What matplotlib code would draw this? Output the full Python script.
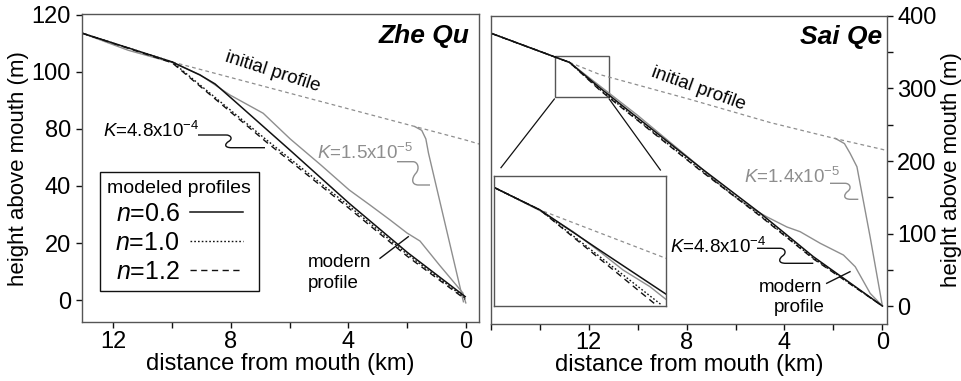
import matplotlib
matplotlib.use("Agg")
import matplotlib.pyplot as plt
from matplotlib.path import Path
from matplotlib.patches import PathPatch, Rectangle
from matplotlib.lines import Line2D

plt.rcParams['font.family'] = ['Liberation Sans', 'DejaVu Sans']
plt.rcParams['mathtext.fontset'] = 'custom'
plt.rcParams['mathtext.rm'] = 'Liberation Sans'
plt.rcParams['mathtext.it'] = 'Liberation Sans:italic'

W, H = 962, 381
BLACK = '#111111'
GREY = '#8e8e8e'
SPINE = '#555555'

# ---- Zhe Qu (left panel), distance km / height m ----
zq_init_x = [10.0, 0.0, -0.46]
zq_init_y = [83.5, 56.1, 54.7]
zq_n06_x = [13.07, 10.0, 9.05, 8.54, 7.92, 5.98, 3.97, 1.99, 0.02]
zq_n06_y = [93.6, 83.5, 78.9, 75.8, 70.2, 52.5, 33.9, 16.7, 1.2]
zq_n10_x = [13.07, 10.0, 6.78, 3.98, 2.0, 0.02]
zq_n10_y = [93.6, 83.5, 56.1, 33.0, 16.1, 0.7]
zq_n12_x = [13.07, 10.0, 6.78, 3.98, 2.0, 0.02]
zq_n12_y = [93.6, 83.2, 55.3, 32.2, 15.4, 0.3]
zq_modern_x = [13.07, 11.5, 10.0, 9.05, 8.03, 6.9, 5.98, 4.94, 3.97, 3.26, 2.58, 2.0, 1.56, 0.9, 0.1, 0.0]
zq_modern_y = [93.6, 87.6, 83.3, 79.0, 71.9, 65.5, 56.5, 47.4, 38.6, 33.3, 28.1, 23.5, 20.7, 12.3, 2.5, -1.0]
zq_klow_x = [1.73, 1.5, 1.36, 1.27, 0.08]
zq_klow_y = [60.8, 59.5, 56.5, 51.5, -0.6]
zq_yticks = [0, 20, 40, 60, 80, 100]
zq_yticklabels = ['0', '20', '40', '80', '100', '120']

# ---- Sai Qe (right panel) ----
sq_init_x = [12.78, 11.52, 7.86, 4.58, 2.0, 0.0, -0.2]
sq_init_y = [336, 319, 285, 253, 231.5, 216, 214]
sq_n06_x = [15.97, 12.78, 11.52, 7.44, 4.99, 2.82, 0.0]
sq_n06_y = [376, 336, 300.3, 191, 128, 68, 0]
sq_n10_x = [15.97, 12.78, 11.52, 7.44, 4.99, 2.82, 0.0]
sq_n10_y = [376, 336, 298, 188, 125, 66, 0]
sq_n12_x = [15.97, 12.78, 11.52, 7.44, 4.99, 2.82, 0.0]
sq_n12_y = [376, 336, 297, 187, 124, 65, 0]
sq_modern_x = [15.97, 12.78, 10.0, 7.5, 6.6, 6.0, 5.3, 4.72, 3.9, 3.36, 2.54, 1.59, 1.11, 0.5, 0.0]
sq_modern_y = [376, 336, 263, 193, 166, 150, 134, 123, 109, 102.5, 86.5, 70.3, 54.2, 17.5, 0]
sq_klow_x = [1.93, 1.55, 1.32, 1.04, 0.5, 0.0]
sq_klow_y = [231.3, 224, 210.6, 192, 95, 0]

# ---- inset (zoom of the Sai Qe knickpoint) ----
ins_init_x = [13.4, 12.8, 11.16]
ins_init_y = [340.0, 330.1, 308.9]
ins_n06_x = [13.4, 12.8, 12.06, 11.16]
ins_n06_y = [340.0, 330.1, 313.3, 293.2]
ins_n10_x = [13.4, 12.8, 11.22]
ins_n10_y = [340.0, 330.1, 288.5]
ins_n12_x = [13.4, 12.8, 11.29]
ins_n12_y = [340.0, 330.1, 288.5]
ins_modern_x = [13.4, 12.8, 12.37, 12.02, 11.72, 11.37, 11.16]
ins_modern_y = [340.0, 329.8, 320.6, 311.8, 303.8, 296.5, 290.9]


def fx(x):
    return x / W


def fy(y):
    return 1 - y / H


fig = plt.figure(figsize=(9.62, 3.81), dpi=100)
ax1 = fig.add_axes([fx(82), fy(322.3), (479.3 - 82) / W, (322.3 - 14.3) / H])
ax2 = fig.add_axes([fx(490.7), fy(324), (887.3 - 490.7) / W, (324 - 15.7) / H])


def squiggle(x0, y0, xl, x1, y1, color):
    h = y1 - y0
    w = 7
    pts = [(x0, y0), (xl, y0),
           (xl + 0.7 * w, y0), (xl + w, y0 + 0.3 * h), (xl + 0.4 * w, y0 + 0.5 * h),
           (xl - 0.2 * w, y0 + 0.7 * h), (xl - 0.3 * w, y1), (xl + 0.8 * w, y1),
           (x1, y1)]
    codes = [Path.MOVETO, Path.LINETO] + [Path.CURVE4] * 6 + [Path.LINETO]
    verts = [(fx(a), fy(b)) for a, b in pts]
    fig.add_artist(PathPatch(Path(verts, codes), transform=fig.transFigure,
                             fill=False, edgecolor=color, lw=1.0))


def pointer(xa, ya, xb, yb):
    fig.add_artist(Line2D([fx(xa), fx(xb)], [fy(ya), fy(yb)],
                          transform=fig.transFigure, color=BLACK, lw=1.0))


def style_axes(ax):
    for s in ax.spines.values():
        s.set_color(SPINE)
        s.set_linewidth(1.0)
    ax.tick_params(direction='out', length=4, width=1, labelsize=17, color=BLACK)


# left panel
ax1.plot(zq_init_x, zq_init_y, color=GREY, lw=0.9, dashes=(3, 2.5))
ax1.plot(zq_klow_x, zq_klow_y, color=GREY, lw=1.0)
ax1.plot(zq_modern_x, zq_modern_y, color=GREY, lw=1.0)
l12, = ax1.plot(zq_n12_x, zq_n12_y, color=BLACK, lw=1.0, dashes=(4.5, 3.2))
l10, = ax1.plot(zq_n10_x, zq_n10_y, color=BLACK, lw=1.0, dashes=(1.2, 1.5))
l06, = ax1.plot(zq_n06_x, zq_n06_y, color=BLACK, lw=1.1)
ax1.set_xlim(13.07, -0.46)
ax1.set_ylim(-7.8, 100.2)
ax1.set_xticks([0, 2, 4, 6, 8, 10, 12])
ax1.set_xticklabels(['0', '', '4', '', '8', '', '12'])
ax1.set_yticks(zq_yticks)
ax1.set_yticklabels(zq_yticklabels)
style_axes(ax1)
ax1.tick_params(axis='x', pad=2)
ax1.tick_params(axis='y', pad=4)
ax1.set_xlabel('distance from mouth (km)', fontsize=17, labelpad=0)
ax1.set_ylabel('height above mouth (m)', fontsize=16, labelpad=2)

leg = ax1.legend([l06, l10, l12], ['$n$=0.6', '$n$=1.0', '$n$=1.2'],
                 title='modeled profiles', title_fontsize=14, fontsize=18,
                 markerfirst=False, loc='upper left', bbox_to_anchor=(0.0453, 0.487),
                 borderaxespad=0, fancybox=False, framealpha=1, edgecolor=BLACK,
                 borderpad=0.3, labelspacing=0.2, handlelength=2.15, handletextpad=0.4)
leg.get_frame().set_linewidth(1.0)

# right panel
ax2.plot(sq_init_x, sq_init_y, color=GREY, lw=0.9, dashes=(3, 2.5))
ax2.plot(sq_klow_x, sq_klow_y, color=GREY, lw=1.0)
ax2.plot(sq_modern_x, sq_modern_y, color=GREY, lw=1.0)
ax2.plot(sq_n12_x, sq_n12_y, color=BLACK, lw=1.0, dashes=(4.5, 3.2))
ax2.plot(sq_n10_x, sq_n10_y, color=BLACK, lw=1.0, dashes=(1.2, 1.5))
ax2.plot(sq_n06_x, sq_n06_y, color=BLACK, lw=1.1)
ax2.set_xlim(16.0, -0.2)
ax2.set_ylim(-24.8, 400.4)
ax2.set_xticks([0, 2, 4, 6, 8, 10, 12, 14, 16])
ax2.set_xticklabels(['0', '', '4', '', '8', '', '12', '', ''])
ax2.set_yticks([0, 100, 200, 300, 400])
ax2.set_yticks([50, 150, 250, 350], minor=True)
ax2.yaxis.tick_right()
ax2.yaxis.set_label_position('right')
style_axes(ax2)
ax2.tick_params(axis='y', which='minor', direction='out', length=4, width=1, color=BLACK)
ax2.tick_params(axis='x', pad=2)
ax2.tick_params(axis='y', pad=3)
ax2.set_xlabel('distance from mouth (km)', fontsize=17, labelpad=0)
ax2.set_ylabel('height above mouth (m)', fontsize=16, labelpad=3, rotation=90)

ax2.add_patch(Rectangle((11.16, 288), 2.23, 57, fill=False, edgecolor=SPINE, lw=1.0))
ax2.plot([13.4, 15.58], [285.5, 190.8], color=BLACK, lw=0.9, clip_on=False)
ax2.plot([11.16, 9.07], [285.5, 187.6], color=BLACK, lw=0.9, clip_on=False)

# inset
ax3 = fig.add_axes([fx(494), fy(306), (666 - 494) / W, (306 - 176) / H])
ax3.plot(ins_init_x, ins_init_y, color=GREY, lw=0.9, dashes=(3, 2.5))
ax3.plot(ins_modern_x, ins_modern_y, color=GREY, lw=1.0)
ax3.plot(ins_n12_x, ins_n12_y, color=BLACK, lw=1.0, dashes=(4.5, 3.2))
ax3.plot(ins_n10_x, ins_n10_y, color=BLACK, lw=1.0, dashes=(1.2, 1.5))
ax3.plot(ins_n06_x, ins_n06_y, color=BLACK, lw=1.1)
ax3.set_xlim(13.4, 11.16)
ax3.set_ylim(288, 345)
ax3.set_xticks([])
ax3.set_yticks([])
for s in ax3.spines.values():
    s.set_color(SPINE)
    s.set_linewidth(1.0)

# annotations
fig.text(fx(470), fy(43), 'Zhe Qu', fontsize=19, fontweight='bold', fontstyle='italic',
         ha='right', va='baseline')
fig.text(fx(881.7), fy(44), 'Sai Qe', fontsize=19, fontweight='bold', fontstyle='italic',
         ha='right', va='baseline')
fig.text(fx(272.5), fy(72.5), 'initial profile', fontsize=13.5, rotation=-17.8,
         ha='center', va='center', rotation_mode='anchor')
fig.text(fx(698.3), fy(89.2), 'initial profile', fontsize=13.5, rotation=-19.9,
         ha='center', va='center', rotation_mode='anchor')

fig.text(fx(199), fy(137), '$K$=4.8x10$^{-4}$', fontsize=13.5, ha='right', va='baseline')
squiggle(198, 135, 226, 265, 147.7, BLACK)
fig.text(fx(413), fy(159), '$K$=1.5x10$^{-5}$', fontsize=13.5, ha='right', va='baseline', color=GREY)
squiggle(397, 161.7, 413, 430, 185, GREY)
fig.text(fx(840), fy(183), '$K$=1.4x10$^{-5}$', fontsize=13.5, ha='right', va='baseline', color=GREY)
squiggle(830, 183.3, 845, 858.3, 199.3, GREY)
fig.text(fx(766), fy(253), '$K$=4.8x10$^{-4}$', fontsize=13.5, ha='right', va='baseline')
squiggle(757, 248.3, 780, 813.3, 263.3, BLACK)

fig.text(fx(308), fy(266.7), 'modern', fontsize=13.5, ha='left', va='baseline')
fig.text(fx(308), fy(288), 'profile', fontsize=13.5, ha='left', va='baseline')
pointer(380, 258.3, 408.3, 236.7)
fig.text(fx(822), fy(291.7), 'modern', fontsize=13.5, ha='right', va='baseline')
fig.text(fx(825), fy(312), 'profile', fontsize=13.5, ha='right', va='baseline')
pointer(826.7, 283.3, 850, 271.7)

fig.savefig('out.png', dpi=100)
